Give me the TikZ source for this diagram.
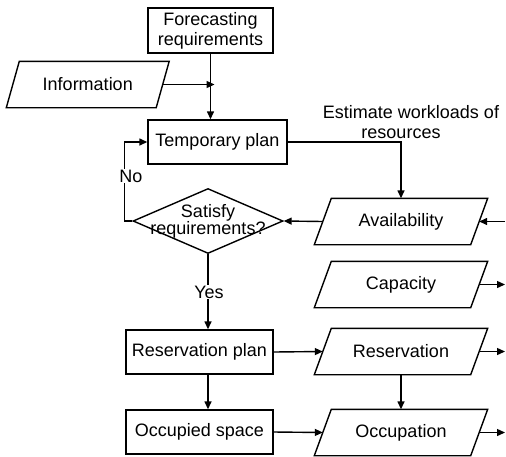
\documentclass[tikz,border=0pt]{standalone}
\usepackage{fontspec}
\setmainfont{Liberation Sans}
\usetikzlibrary{shapes.geometric,arrows.meta}
\begin{document}
\begin{tikzpicture}[x=1pt,y=-1pt, line width=1.4pt,
  every node/.style={font=\fontsize{18}{20}\selectfont},
  box/.style={draw, rectangle, inner sep=0pt},
  para/.style={rectangle, minimum width=155pt, minimum height=45pt, inner sep=0pt},
  arr/.style={-{Triangle[length=8pt,width=7pt]}},
  lbl/.style={fill=white, inner sep=1pt}]
\useasboundingbox (0,0) rectangle (506,456);
\node[box, minimum width=125pt, minimum height=45pt, align=center] (fr) at (210.5,30.5) {Forecasting\\requirements};
\node[para, minimum width=148.5pt] (info) at (87.75,84.5) {Information};
\draw ([xshift=6.5pt]info.north west) -- ([xshift=6.5pt]info.north east)
  -- ([xshift=-6.5pt]info.south east) -- ([xshift=-6.5pt]info.south west) -- cycle;
\node[box, minimum width=139pt, minimum height=44pt] (tp) at (217.5,142) {Temporary plan};
\node[draw, diamond, minimum width=150pt, minimum height=65pt, inner sep=0pt] (dm) at (208,221) {};
\node[align=center, inner sep=0pt, font=\fontsize{18}{17}\selectfont] (dmt) at (dm.center) {Satisfy\\requirements?};
\node[para] (av) at (401,221.5) {Availability};
\node[para] (cap) at (401,284.5) {Capacity};
\node[para] (res) at (401,351.5) {Reservation};
\node[para] (occ) at (401,432.5) {Occupation};
\foreach \n in {av,cap,res,occ}
  \draw ([xshift=8.5pt]\n.north west) -- ([xshift=8.5pt]\n.north east)
    -- ([xshift=-8.5pt]\n.south east) -- ([xshift=-8.5pt]\n.south west) -- cycle;
\node[box, minimum width=147pt, minimum height=44pt] (rp) at (199.5,352) {Reservation plan};
\node[box, minimum width=147pt, minimum height=44pt] (os) at (199.5,432) {Occupied space};
\node[align=center] (est) at (411,122) {Estimate workloads of\\resources\hspace*{20pt}};
\coordinate (edge) at (505,0);

\draw[arr] (fr.south) -- (fr.south |- tp.north);
\draw[arr, shorten >=-4pt] (info.east) -- (info.east -| fr.south);
\draw[arr] (tp.east) -| (av.north);
\draw[arr] (av.west) -- (dm.east);
\draw[arr] (av.east -| edge) -- (av.east);
\draw[arr] (dm.west) -- ++(-8,0) |- (tp.west);
\node[lbl] (no) at (131,176) {No};
\draw[arr] (dm.south) -- (dm.south |- rp.north);
\node[lbl] (yes) at (209,292) {Yes};
\draw[arr] (cap.east) -- (cap.east -| edge);
\draw[arr] (rp.east) -- (res.west);
\draw[arr] (res.east) -- (res.east -| edge);
\draw[arr] (res.south) -- (occ.north);
\draw[arr] (os.east) -- (occ.west);
\draw[arr] (occ.east) -- (occ.east -| edge);
\draw[arr] (rp.south -| dm.south) -- (os.north -| dm.south);
\end{tikzpicture}
\end{document}
